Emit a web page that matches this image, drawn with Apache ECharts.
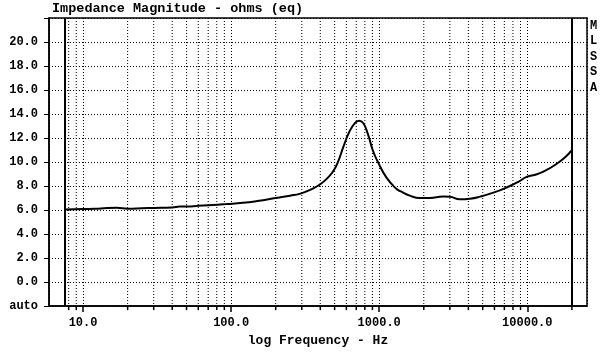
<!DOCTYPE html>
<html>
<head>
<meta charset="utf-8">
<script src="https://cdn.jsdelivr.net/npm/echarts@6/dist/echarts.min.js"></script>
<style>
    html, body {margin: 0; padding: 0; background: #fff;}
    #main {width: 600px; height: 352px;}
</style>
</head>
<body>
<div id="main"></div>
<script>
// impedance curve
var freqs = [7.5, 10, 12, 14.5, 17, 20, 25, 30, 40, 45, 50, 60, 70, 93, 120, 150, 200, 250, 290, 350,
    400, 450, 490, 530, 570, 630, 685, 730, 780, 840, 910, 985, 1120, 1310, 1400, 1610, 1880, 2200,
    2700, 3000, 3500, 4100, 4800, 5900, 7250, 8700, 9900, 11600, 13500, 15800, 18000, 20000];
var ohms = [6.05, 6.08, 6.1, 6.18, 6.2, 6.12, 6.15, 6.18, 6.22, 6.3, 6.3, 6.35, 6.4, 6.5, 6.6, 6.75, 7.0, 7.2, 7.35, 7.75,
    8.15, 8.7, 9.25, 10.1, 11.2, 12.55, 13.25, 13.45, 13.25, 12.3, 10.9, 9.95, 8.7, 7.75, 7.55, 7.2, 7.0, 7.0,
    7.12, 7.1, 6.9, 6.95, 7.12, 7.45, 7.88, 8.35, 8.76, 8.98, 9.34, 9.86, 10.4, 11.0];

// sweep limits (solid verticals)
var sweepLimits = [7.5, 20000];
// minor log grid lines
var minorFreqs = [8, 9, 20, 30, 40, 50, 60, 70, 80, 90, 200, 300, 400, 500, 600, 700, 800, 900,
    2000, 3000, 4000, 5000, 6000, 7000, 8000, 9000, 20000];

var xMin = 5.89, xMax = 25300;
var yMin = -2, yMax = 22, yStep = 2;
var yBottomLabel = 'auto';

var font = 'Liberation Mono';

~function () {
    var myChart = echarts.init(document.getElementById('main'));
    var curve = freqs.map(function (f, i) { return [f, ohms[i]]; });
    var option = {
        animation: false,
        title: {
            text: 'Impedance Magnitude - ohms (eq)',
            left: 52,
            top: 2,
            padding: 0,
            textStyle: {fontFamily: font, fontSize: 13.5, fontWeight: 'bold', color: '#000'}
        },
        graphic: [{
            type: 'text',
            left: 590,
            top: 18,
            style: {
                text: 'M\nL\nS\nS\nA',
                font: 'bold 12px "Liberation Mono"',
                lineHeight: 15.5,
                fill: '#000'
            }
        }],
        grid: {
            left: 49, right: 13, top: 18, bottom: 43,
            show: true,
            borderColor: '#000',
            borderWidth: 1.5
        },
        xAxis: {
            type: 'log',
            logBase: 10,
            min: xMin,
            max: xMax,
            name: 'log Frequency - Hz',
            nameLocation: 'middle',
            nameGap: 27,
            nameTextStyle: {fontFamily: font, fontSize: 13, fontWeight: 'bold', color: '#000'},
            axisLine: {onZero: false, lineStyle: {color: '#000', width: 1.5}},
            axisTick: {length: 6, lineStyle: {color: '#000', width: 1.5}},
            axisLabel: {
                showMinLabel: false,
                showMaxLabel: false,
                margin: 11,
                fontFamily: font, fontSize: 12, fontWeight: 'bold', color: '#000',
                formatter: function (v) { return v.toFixed(1); }
            },
            splitLine: {show: true, lineStyle: {color: '#000', type: [1, 2], width: 1}}
        },
        yAxis: {
            type: 'value',
            min: yMin,
            max: yMax,
            interval: yStep,
            axisLine: {show: true, onZero: false, lineStyle: {color: '#000', width: 1.5}},
            axisTick: {show: true, length: 5, lineStyle: {color: '#000'}},
            axisLabel: {
                margin: 11,
                fontFamily: font, fontSize: 12, fontWeight: 'bold', color: '#000',
                formatter: function (v) {
                    if (v === yMin) return yBottomLabel;
                    if (v === yMax) return '';
                    return v.toFixed(1);
                }
            },
            splitLine: {show: true, lineStyle: {color: '#000', type: [1, 2], width: 1}}
        },
        series: [
            {
                type: 'custom',
                silent: true,
                clip: false,
                data: minorFreqs.map(function (f) { return [f, 0]; }),
                encode: {x: 0, y: 1},
                renderItem: function (params, api) {
                    var f = api.value(0);
                    var top = api.coord([f, yMax]);
                    var bot = api.coord([f, yMin]);
                    return {
                        type: 'group',
                        children: [
                            {type: 'line', shape: {x1: top[0], y1: top[1], x2: bot[0], y2: bot[1]},
                                style: {stroke: '#000', lineWidth: 1, lineDash: [1, 2]}},
                            {type: 'line', shape: {x1: bot[0], y1: bot[1], x2: bot[0], y2: bot[1] + 4},
                                style: {stroke: '#000', lineWidth: 1.5}}
                        ]
                    };
                }
            },
            {
                name: 'impedance',
                type: 'line',
                smooth: true,
                symbol: 'none',
                data: curve,
                lineStyle: {color: '#000', width: 2},
                markLine: {
                    silent: true,
                    symbol: 'none',
                    label: {show: false},
                    lineStyle: {color: '#000', type: 'solid', width: 2},
                    data: sweepLimits.map(function (f) { return {xAxis: f}; })
                }
            }
        ]
    };
    myChart.setOption(option);
}();
</script>
</body>
</html>
